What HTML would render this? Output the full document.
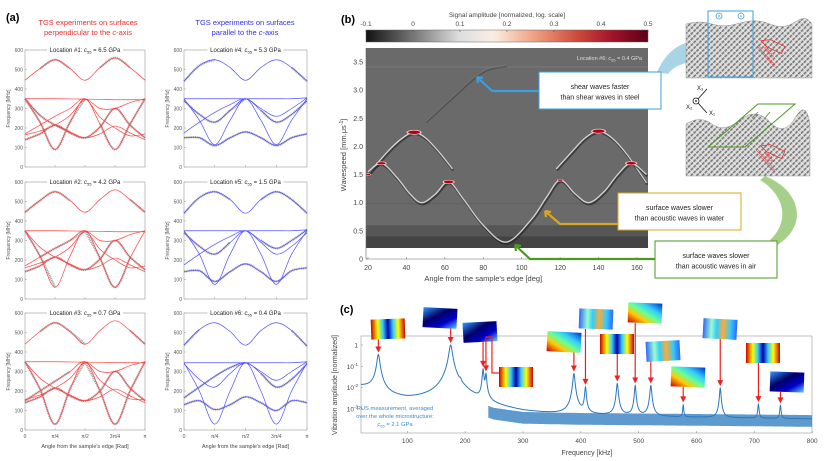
<!DOCTYPE html>
<html><head><meta charset="utf-8">
<style>
html,body{margin:0;padding:0;background:#fff;}
svg{display:block;font-family:"Liberation Sans",Arial,sans-serif;}
</style></head>
<body>
<svg id="fig" width="831" height="461" viewBox="0 0 831 461" xmlns="http://www.w3.org/2000/svg">
<defs>
  <linearGradient id="cbar" x1="0" x2="1" y1="0" y2="0">
    <stop offset="0" stop-color="#111"/>
    <stop offset="0.17" stop-color="#777"/>
    <stop offset="0.33" stop-color="#ddd"/>
    <stop offset="0.45" stop-color="#fbeee4"/>
    <stop offset="0.6" stop-color="#eea080"/>
    <stop offset="0.75" stop-color="#cc4a3a"/>
    <stop offset="0.88" stop-color="#a0102a"/>
    <stop offset="1" stop-color="#5a0015"/>
  </linearGradient>
  <pattern id="hatch" width="4" height="4" patternUnits="userSpaceOnUse" patternTransform="rotate(45)">
    <rect width="4" height="4" fill="#d8d8d8"/>
    <rect width="1.6" height="4" fill="#7a7a7a"/>
    <rect width="4" height="0.7" fill="#f4f4f4"/>
  </pattern>
  <linearGradient id="jet1" x1="0" x2="1"><stop offset="0" stop-color="#c00"/><stop offset="0.2" stop-color="#ff0"/><stop offset="0.35" stop-color="#3cf"/><stop offset="0.5" stop-color="#00a"/><stop offset="0.65" stop-color="#3cf"/><stop offset="0.8" stop-color="#ff0"/><stop offset="1" stop-color="#c00"/></linearGradient>
  <linearGradient id="jet2" x1="0" x2="1" y1="0" y2="1"><stop offset="0" stop-color="#39f"/><stop offset="0.4" stop-color="#006"/><stop offset="0.7" stop-color="#00c"/><stop offset="1" stop-color="#6cf"/></linearGradient>
  <linearGradient id="jet3" x1="0" x2="1" y1="1" y2="0"><stop offset="0" stop-color="#c00"/><stop offset="0.3" stop-color="#fc0"/><stop offset="0.5" stop-color="#6f9"/><stop offset="0.7" stop-color="#3cf"/><stop offset="1" stop-color="#03c"/></linearGradient>
  <linearGradient id="jet4" x1="0" x2="1"><stop offset="0" stop-color="#36f"/><stop offset="0.25" stop-color="#9fc"/><stop offset="0.4" stop-color="#3cf"/><stop offset="0.6" stop-color="#fa3"/><stop offset="0.8" stop-color="#3cf"/><stop offset="1" stop-color="#36f"/></linearGradient>
  <clipPath id="clipB"><rect x="366" y="48" width="282" height="200"/></clipPath>
  <clipPath id="clipC"><rect x="361" y="336" width="451" height="97"/></clipPath>
</defs>

<text x="6" y="21" font-size="11" font-weight="bold">(a)</text>
<text x="341" y="23" font-size="11" font-weight="bold">(b)</text>
<text x="340" y="313" font-size="11" font-weight="bold">(c)</text>

<text x="88" y="25" font-size="7.5" fill="#f03030" text-anchor="middle">TGS experiments on surfaces</text>
<text x="88" y="35" font-size="7.5" fill="#f03030" text-anchor="middle">perpendicular to the <tspan font-style="italic">c</tspan>-axis</text>
<text x="245" y="25" font-size="7.5" fill="#3030f0" text-anchor="middle">TGS experiments on surfaces</text>
<text x="245" y="35" font-size="7.5" fill="#3030f0" text-anchor="middle">parallel to the <tspan font-style="italic">c</tspan>-axis</text>

<g id="panelA"></g>
<g id="panelB"></g>
<g id="panelC"></g>
</svg>

<script>
// ---------- Panel (a) data ----------
const aAngles = [0, 0.125, 0.25, 0.375, 0.5, 0.625, 0.75, 0.875, 1]; // fraction of pi
const aTitles = ["Location #1: ", "Location #2: ", "Location #3: ", "Location #4: ", "Location #5: ", "Location #6: "];
const aC55 = ["6.5", "4.2", "0.7", "5.3", "1.5", "0.4"];
const aYTicks = [0, 100, 200, 300, 400, 500, 600];
const aXTickLabels = ["0", "π/4", "π/2", "3π/4", "π"];
const aCurvesLeft1 = [
  [445,505,550,505,445,510,560,510,445],
  [350,350,350,349,348,347,345,345,345],
  [350,230,90,230,350,220,90,220,350],
  [165,185,215,265,345,300,300,330,350],
  [140,170,215,175,150,205,300,215,150],
  [350,265,215,180,150,170,210,175,140],
  [170,215,260,300,350,255,200,160,170]
];
const aCurvesLeft2 = [
  [445,505,550,505,445,510,560,510,445],
  [350,350,350,349,348,347,345,345,345],
  [350,220,60,220,350,210,60,210,350],
  [160,185,215,265,345,300,300,330,350],
  [140,170,215,175,150,205,300,215,150],
  [350,265,215,180,150,170,210,175,140],
  [170,215,260,300,350,255,200,160,170]
];
const aCurvesLeft3 = [
  [440,505,550,505,440,510,560,510,440],
  [350,350,350,349,348,347,345,345,345],
  [350,210,30,210,350,200,30,200,350],
  [155,180,215,265,345,300,300,330,350],
  [140,170,215,175,150,200,300,215,150],
  [350,265,215,180,150,170,210,175,140],
  [150,200,250,300,350,255,200,160,155]
];
const aCurvesRight1 = [
  [440,520,550,510,445,510,550,510,440],
  [350,350,350,350,350,350,350,350,355],
  [350,240,115,240,350,240,115,240,350],
  [175,230,280,320,350,300,260,300,355],
  [150,150,110,150,180,150,110,150,170],
  [340,270,230,290,350,290,230,270,340]
];
const aCurvesRight2 = [
  [440,520,550,510,440,510,550,510,440],
  [350,350,350,350,350,350,350,350,355],
  [350,230,75,230,350,230,75,230,350],
  [175,230,280,320,350,300,260,300,355],
  [140,145,90,140,180,140,90,145,160],
  [340,270,230,290,350,290,230,270,340]
];
const aCurvesRight3 = [
  [435,515,550,505,435,510,550,510,430],
  [345,345,345,345,345,345,345,345,350],
  [345,200,30,200,345,200,30,200,345],
  [165,220,275,320,345,300,255,300,350],
  [130,150,105,130,170,140,100,150,140],
  [340,260,220,290,345,290,220,260,340]
];
const aGray1 = [[0,1,3],[0,5,7],[2,0,4],[2,5,8],[4,0,8],[5,0,3]];
const aGray2 = [[0,0,3],[0,7,8],[2,0,2],[2,4,7],[4,0,8],[6,1,4]];
const aGray3 = [[0,1,4],[0,7,8],[2,0,4],[2,4,8],[4,0,8],[6,0,3]];
const aGrayR1 = [[0,0,2],[0,7,8],[4,0,8],[5,0,4],[5,5,8]];
const aGrayR2 = [[0,0,3],[0,5,8],[4,0,8],[3,5,8],[5,0,3]];
const aGrayR3 = [[0,0,1],[0,7,8],[4,0,8],[3,0,4],[5,5,8]];

// ---------- Panel (b) data ----------
const bColorTicks = [-0.1, 0, 0.1, 0.2, 0.3, 0.4, 0.5];
const bYTicks = [0, 0.5, 1.0, 1.5, 2.0, 2.5, 3.0, 3.5];
const bXTicks = [20, 40, 60, 80, 100, 120, 140, 160];
const bWaveAngles = [20,27,35,42,48,55,62,70,80,92,105,113,120,128,135,143,150,157,165];
const bWaveSpeeds = [1.55,1.7,1.45,1.15,1.0,1.15,1.37,1.05,0.6,0.3,0.7,1.1,1.4,1.15,1.0,1.2,1.5,1.7,1.5];
const bArch1Angles = [20,30,38,44,50,57,64];
const bArch1Speeds = [1.5,1.9,2.15,2.25,2.15,1.9,1.6];
const bArch2Angles = [118,126,133,140,147,155,165];
const bArch2Speeds = [1.6,1.9,2.15,2.27,2.15,1.85,1.35];
const bFaintAngles = [50,58,66,74,82,92];
const bFaintSpeeds = [2.45,2.7,2.95,3.2,3.38,3.45];
const bPeakAngles = [44,27,62,140,157,120,20];
const bPeakSpeeds = [2.25,1.7,1.37,2.27,1.7,1.4,1.5];
const bPeakSizes = [1,0.7,0.8,1,0.8,0.4,0.4];

// ---------- Panel (c) data ----------
const cXTicks = [100,200,300,400,500,600,700,800];
const cYTickExp = [0,-1,-2,-3];
const cPeakFreqs = [50,175,192,231,236,388,408,463,494,521,577,641,707,745];
const cPeakAmps  = [0.35,1.0,0.006,0.07,0.04,0.045,0.01,0.015,0.012,0.012,0.0012,0.009,0.0013,0.0011];
const cPeakWidths= [2.2,2.5,1.5,1.2,1.2,1.6,1.2,1.4,1.2,1.4,0.8,1.2,1.0,1.0];
const cBaseFreqs = [20,40,60,100,150,200,225,250,300,400,500,600,700,800];
const cBaseAmps  = [0.012,0.01,0.004,0.0025,0.0025,0.003,0.0012,0.0007,0.00045,0.0004,0.00038,0.00036,0.00034,0.00032];
const cModeFreqs = [50,175,231,236,388,408,463,494,521,577,641,707,745];

const NS = "http://www.w3.org/2000/svg";
function mk(tag, attrs, parent){const e=document.createElementNS(NS,tag);for(const k in attrs)e.setAttribute(k,attrs[k]);parent.appendChild(e);return e;}
function smooth(pts){
  let d="M"+pts[0][0].toFixed(2)+","+pts[0][1].toFixed(2);
  for(let i=0;i<pts.length-1;i++){
    const p0=pts[Math.max(0,i-1)],p1=pts[i],p2=pts[i+1],p3=pts[Math.min(pts.length-1,i+2)];
    const c1=[p1[0]+(p2[0]-p0[0])/6,p1[1]+(p2[1]-p0[1])/6];
    const c2=[p2[0]-(p3[0]-p1[0])/6,p2[1]-(p3[1]-p1[1])/6];
    d+="C"+c1[0].toFixed(2)+","+c1[1].toFixed(2)+" "+c2[0].toFixed(2)+","+c2[1].toFixed(2)+" "+p2[0].toFixed(2)+","+p2[1].toFixed(2);
  }
  return d;
}

// ---------- Draw panel (a) ----------
const gA=document.getElementById("panelA");
const subs=[
 {x0:25,x1:145,top:50,curves:aCurvesLeft1,gray:aGray1,col:"#ff4040",t:0},
 {x0:25,x1:145,top:182,curves:aCurvesLeft2,gray:aGray2,col:"#ff4040",t:1},
 {x0:25,x1:145,top:313,curves:aCurvesLeft3,gray:aGray3,col:"#ff4040",t:2},
 {x0:184,x1:307,top:50,curves:aCurvesRight1,gray:aGrayR1,col:"#5050ff",t:3},
 {x0:184,x1:307,top:182,curves:aCurvesRight2,gray:aGrayR2,col:"#5050ff",t:4},
 {x0:184,x1:307,top:313,curves:aCurvesRight3,gray:aGrayR3,col:"#5050ff",t:5}
];
subs.forEach((s,si)=>{
  const h=117;
  const xs=f=>s.x0+f*(s.x1-s.x0);
  const ys=v=>s.top+h-v/600*h;
  const g=mk("g",{},gA);
  
  
  mk("rect",{x:s.x0,y:s.top,width:s.x1-s.x0,height:h,fill:"#fff",stroke:"#999","stroke-width":0.6},g);
  aYTicks.forEach(v=>{
    mk("line",{x1:s.x0,x2:s.x0+2,y1:ys(v),y2:ys(v),stroke:"#999","stroke-width":0.5},g);
    const t=mk("text",{x:s.x0-2,y:ys(v)+1.8,"font-size":5,fill:"#555","text-anchor":"end"},g);
    t.textContent=v;
    
    
  });
  const yl=mk("text",{x:0,y:0,"font-size":5,fill:"#555","text-anchor":"middle",transform:`translate(${s.x0-15},${s.top+h/2}) rotate(-90)`},g);
  yl.textContent="Frequency [MHz]";
  
  
  if(s.t===2||s.t===5){
    aXTickLabels.forEach((lab,i)=>{
      const x=xs(i/4);
      mk("line",{x1:x,x2:x,y1:s.top+h,y2:s.top+h-2,stroke:"#999","stroke-width":0.5},g);
      const t=mk("text",{x:x,y:s.top+h+8,"font-size":5,fill:"#555","text-anchor":"middle"},g);
      t.textContent=lab;
      
      
    });
    const xl=mk("text",{x:(s.x0+s.x1)/2,y:s.top+h+18,"font-size":5.5,fill:"#444","text-anchor":"middle"},g);
    xl.textContent="Angle from the sample's edge [Rad]";
    
    
  } else {
    [1,2,3].forEach(i=>mk("line",{x1:xs(i/4),x2:xs(i/4),y1:s.top+h,y2:s.top+h-2,stroke:"#999","stroke-width":0.5},g));
  }
  s.gray.forEach(gr=>{
    const c=s.curves[gr[0]];
    const pts=[];for(let i=gr[1];i<=gr[2];i++)pts.push([xs(aAngles[i]),ys(c[i])]);
    const p=mk("path",{d:smooth(pts),fill:"none",stroke:"#888","stroke-width":2.2,"stroke-dasharray":"1.2 0.6",opacity:0.75},g);
    
    
  });
  s.curves.forEach((c,ci)=>{
    const pts=c.map((v,i)=>[xs(aAngles[i]),ys(v)]);
    const p=mk("path",{d:smooth(pts),fill:"none",stroke:s.col,"stroke-width":0.7},g);
    
    
  });
  const tx=(s.x0+s.x1)/2;
  mk("rect",{x:tx-38,y:s.top-4,width:76,height:8,fill:"#fff"},g);
  const tt=mk("text",{x:tx,y:s.top+2,"font-size":6,fill:"#222","text-anchor":"middle"},g);
  tt.innerHTML=aTitles[s.t]+'<tspan font-style="italic">c</tspan><tspan font-size="4" dy="1.5">55</tspan><tspan dy="-1.5"> = '+aC55[s.t]+' GPa</tspan>';
  
  
});

// ---------- Draw panel (b) ----------
const gB=document.getElementById("panelB");
const xb=d=>368+(d-20)*1.921;
const yb=v=>259-v*56.3;
const cbx=v=>366+(v+0.1)/0.6*282;
let e;
e=mk("text",{x:507,y:17,"font-size":6.5,fill:"#444","text-anchor":"middle"},gB);e.textContent="Signal amplitude [normalized, log. scale]";


e=mk("rect",{x:366,y:30,width:282,height:12,fill:"url(#cbar)",stroke:"#666","stroke-width":0.5},gB);


bColorTicks.forEach(v=>{
  mk("line",{x1:cbx(v),x2:cbx(v),y1:30,y2:32,stroke:"#444","stroke-width":0.5},gB);
  const t=mk("text",{x:cbx(v),y:26,"font-size":6.5,fill:"#444","text-anchor":"middle"},gB);
  t.textContent=v;
  
  
});
e=mk("rect",{x:366,y:48,width:282,height:200,fill:"#6a6a6a"},gB);


const gBc=mk("g",{"clip-path":"url(#clipB)"},gB);
mk("rect",{x:366,y:yb(0.6),width:282,height:248-yb(0.6),fill:"#565656"},gBc);
mk("rect",{x:366,y:yb(0.4),width:282,height:248-yb(0.4),fill:"#444"},gBc);
mk("rect",{x:366,y:yb(3.43),width:282,height:2,fill:"#727272"},gBc);
mk("rect",{x:366,y:yb(1.0),width:282,height:1.5,fill:"#626262"},gBc);
function bCurve(angs,sps,w,col,op,name){
  const pts=angs.map((a,i)=>[xb(a),yb(sps[i])]);
  mk("path",{d:smooth(pts),fill:"none",stroke:"#222","stroke-width":w+0.8,opacity:op*0.7,transform:"translate(0.8,1.6)"},gBc);
  const p=mk("path",{d:smooth(pts),fill:"none",stroke:col,"stroke-width":w,opacity:op},gBc);
  
  
}
bCurve(bFaintAngles,bFaintSpeeds,0.5,"#888",0.5,"faint-shear-branch");
bCurve(bArch1Angles,bArch1Speeds,1.3,"#eaeaea",0.85,"arch-branch-left");
bCurve(bArch2Angles,bArch2Speeds,1.3,"#eaeaea",0.85,"arch-branch-right");
bCurve(bWaveAngles,bWaveSpeeds,1.4,"#dcdcdc",0.9,"surface-wave-branch");
bPeakAngles.forEach((a,i)=>{
  const s=bPeakSizes[i];
  mk("ellipse",{cx:xb(a),cy:yb(bPeakSpeeds[i]),rx:7*s+0.5,ry:2*s+0.4,fill:"#f0c8c0"},gBc);
  const el=mk("ellipse",{cx:xb(a),cy:yb(bPeakSpeeds[i]),rx:6*s,ry:1.7*s,fill:"#b0001c"},gBc);
  
  
});
e=mk("text",{x:642,y:60,"font-size":5.5,fill:"#ddd","text-anchor":"end"},gB);
e.innerHTML='Location #6: <tspan font-style="italic">c</tspan><tspan font-size="4" dy="1.5">55</tspan><tspan dy="-1.5"> = 0.4 GPa</tspan>';


mk("line",{x1:366,x2:366,y1:48,y2:259,stroke:"#666","stroke-width":0.6},gB);
mk("line",{x1:366,x2:648,y1:259,y2:259,stroke:"#666","stroke-width":0.6},gB);
bYTicks.forEach(v=>{
  mk("line",{x1:366,x2:368,y1:yb(v),y2:yb(v),stroke:"#666","stroke-width":0.5},gB);
  const t=mk("text",{x:363,y:yb(v)+2.5,"font-size":7,fill:"#444","text-anchor":"end"},gB);
  t.textContent=v.toFixed(v===0?0:1);
  
  
});
bXTicks.forEach(v=>{
  mk("line",{x1:xb(v),x2:xb(v),y1:259,y2:257,stroke:"#666","stroke-width":0.5},gB);
  const t=mk("text",{x:xb(v),y:270,"font-size":7,fill:"#444","text-anchor":"middle"},gB);
  t.textContent=v;
  
  
});
e=mk("text",{x:xb(80),y:281,"font-size":7.5,fill:"#444","text-anchor":"middle"},gB);e.textContent="Angle from the sample's edge [deg]";


e=mk("text",{x:0,y:0,"font-size":7.5,fill:"#444","text-anchor":"middle",transform:"translate(346,155) rotate(-90)"},gB);
e.innerHTML='Wavespeed [mm.μs<tspan font-size="5" dy="-3">-1</tspan><tspan dy="3">]</tspan>';



e=mk("path",{d:"M657,72 C665,55 675,45 690,42 L690,62 C680,64 672,68 668,74 Z",fill:"#a8d4e6"},gB);


e=mk("path",{d:"M765,176 C800,190 810,225 776,246 L770,240 C790,222 785,195 760,180 Z",fill:"#a6d08a"},gB);


e=mk("path",{d:"M686,24 Q700,20 712,24 T740,23 T770,24 T795,22 T812,24 L812,78 L686,78 Z",fill:"url(#hatch)",stroke:"#999","stroke-width":0.5},gB);


e=mk("rect",{x:708,y:11,width:45,height:66,fill:"none",stroke:"#3aa0dc","stroke-width":1},gB);


mk("circle",{cx:719,cy:16,r:3,fill:"none",stroke:"#3aa0dc","stroke-width":0.8},gB);
mk("text",{x:719,y:18.3,"font-size":6,fill:"#3aa0dc","text-anchor":"middle"},gB).textContent="×";
mk("circle",{cx:741,cy:16,r:3,fill:"none",stroke:"#3aa0dc","stroke-width":0.8},gB);
mk("circle",{cx:741,cy:16,r:0.8,fill:"#3aa0dc"},gB);
e=mk("path",{d:"M686,124 Q700,115 712,124 T740,120 T770,122 T795,118 T810,124 L810,176 L686,176 Z",fill:"url(#hatch)",stroke:"#999","stroke-width":0.5},gB);


e=mk("path",{d:"M708,147 L758,104 L795,104 L745,147 Z",fill:"none",stroke:"#4a9a20","stroke-width":1},gB);


mk("line",{x1:752,y1:118,x2:758,y2:112,stroke:"#4a9a20","stroke-width":0.8},gB);
mk("line",{x1:770,y1:112,x2:765,y2:118,stroke:"#4a9a20","stroke-width":0.8},gB);
[[770,45],[770,150]].forEach((p,i)=>{
  const r=mk("path",{d:`M${p[0]-10},${p[1]} l8,-5 l16,0 l0,8 l-16,0 Z`,fill:"none",stroke:"#f03030","stroke-width":0.8,transform:`rotate(25 ${p[0]} ${p[1]})`},gB);
  
  
  const t=mk("text",{x:p[0]-2,y:p[1]+8,"font-size":5,fill:"#f03030","text-anchor":"middle",transform:`rotate(50 ${p[0]-2} ${p[1]+8})`},gB);
  t.textContent="lattice";
  
  
  const t2=mk("text",{x:p[0]-5,y:p[1]+12,"font-size":5,fill:"#f03030","text-anchor":"middle",transform:`rotate(50 ${p[0]-5} ${p[1]+12})`},gB);
  t2.textContent="modulations";
});
mk("circle",{cx:696,cy:101,r:3,fill:"#fff",stroke:"#111","stroke-width":0.8},gB);
mk("circle",{cx:696,cy:101,r:0.9,fill:"#111"},gB);
mk("line",{x1:698,y1:99,x2:707,y2:89,stroke:"#111","stroke-width":0.8},gB);
mk("line",{x1:698,y1:103,x2:707,y2:113,stroke:"#111","stroke-width":0.8},gB);
mk("text",{x:697,y:90,"font-size":6,fill:"#111"},gB).textContent="X₃";
mk("text",{x:686,y:109,"font-size":6,fill:"#111"},gB).textContent="X₂";
mk("text",{x:709,y:115,"font-size":6,fill:"#111"},gB).textContent="X₁";
function annBox(x,y,w,h,col,l1,l2,arrow,name){
  const a=mk("path",{d:arrow,fill:"none",stroke:col,"stroke-width":2.2},gB);
  
  
  const r=mk("rect",{x:x,y:y,width:w,height:h,fill:"#fff",stroke:col,"stroke-width":1},gB);
  
  
  const t1=mk("text",{x:x+w/2,y:y+h/2-1.5,"font-size":7,fill:"#222","text-anchor":"middle"},gB);t1.textContent=l1;
  
  
  const t2=mk("text",{x:x+w/2,y:y+h/2+9,"font-size":7,fill:"#222","text-anchor":"middle"},gB);t2.textContent=l2;
}
annBox(539,72,122,37,"#3aa0dc","shear waves faster","than shear waves in steel","M539,91 L492,91 L477,77 M477,77 l1,6 M477,77 l6,1","shear-annotation");
annBox(618,193,123,37,"#d6a820","surface waves slower","than acoustic waves in water","M618,224 L560,224 L545,211 M545,211 l1,6 M545,211 l6,1","water-annotation");
annBox(655,241,122,37,"#4a9a20","surface waves slower","than acoustic waves in air","M655,259 L530,259 L515,245 M515,245 l1,6 M515,245 l6,1","air-annotation");

// ---------- Draw panel (c) ----------
const gC=document.getElementById("panelC");
const xc=f=>361+(f-20)*0.5785;
const yc=a=>345-21.3*Math.log10(a);
function baseAt(f){
  for(let i=0;i<cBaseFreqs.length-1;i++){
    if(f<=cBaseFreqs[i+1]){const t=(f-cBaseFreqs[i])/(cBaseFreqs[i+1]-cBaseFreqs[i]);return Math.exp(Math.log(cBaseAmps[i])*(1-t)+Math.log(cBaseAmps[i+1])*t);}
  }
  return cBaseAmps[cBaseAmps.length-1];
}
function specAt(f){
  let s=baseAt(f);
  cPeakFreqs.forEach((f0,i)=>{const g=cPeakWidths[i];s+=cPeakAmps[i]*g*g/((f-f0)*(f-f0)+g*g);});
  return s;
}
e=mk("rect",{x:361,y:336,width:451,height:97,fill:"#fff",stroke:"#999","stroke-width":0.6},gC);


const gCc=mk("g",{"clip-path":"url(#clipC)"},gC);
let up="",lo=[];
for(let f=240;f<=800;f+=2){up+=(up?"L":"M")+xc(f).toFixed(1)+","+yc(baseAt(f)*1.6).toFixed(1);lo.push(xc(f).toFixed(1)+","+yc(baseAt(f)*0.45).toFixed(1));}
e=mk("path",{d:up+"L"+lo.reverse().join("L")+"Z",fill:"#2a78bd",opacity:0.75},gCc);


let d="";
for(let f=20;f<=800;f+=0.25){d+=(d?"L":"M")+xc(f).toFixed(2)+","+yc(specAt(f)).toFixed(2);}
e=mk("path",{d:d,fill:"none",stroke:"#2a78bd","stroke-width":1},gCc);


cXTicks.forEach(v=>{
  mk("line",{x1:xc(v),x2:xc(v),y1:433,y2:431,stroke:"#888","stroke-width":0.5},gC);
  const t=mk("text",{x:xc(v),y:443,"font-size":6.5,fill:"#444","text-anchor":"middle"},gC);
  t.textContent=v;
  
  
});
cYTickExp.forEach(p=>{
  const y=yc(Math.pow(10,p));
  mk("line",{x1:361,x2:363,y1:y,y2:y,stroke:"#888","stroke-width":0.5},gC);
  const t=mk("text",{x:358,y:y+2.5,"font-size":6.5,fill:"#444","text-anchor":"end"},gC);
  t.innerHTML=p===0?"1":'10<tspan font-size="4.5" dy="-3">'+p+'</tspan>';
  
  
});
e=mk("text",{x:587,y:455,"font-size":7,fill:"#444","text-anchor":"middle"},gC);e.textContent="Frequency [kHz]";


e=mk("text",{x:0,y:0,"font-size":7,fill:"#444","text-anchor":"middle",transform:"translate(337,385) rotate(-90)"},gC);e.textContent="Vibration amplitude [normalized]";


[["RUS measurement, averaged",0],["over the whole microstructure:",8]].forEach(r=>{
  const t=mk("text",{x:395,y:410+r[1],"font-size":5.8,fill:"#3a8ad0","text-anchor":"middle"},gC);t.textContent=r[0];
  
  
});
e=mk("text",{x:395,y:426,"font-size":5.8,fill:"#3a8ad0","text-anchor":"middle"},gC);
e.innerHTML='<tspan font-style="italic">c</tspan><tspan font-size="4" dy="1.5">55</tspan><tspan dy="-1.5"> = 2.1 GPa</tspan>';
const modeBoxes=[[371,319,"jet1",-2],[423,308,"jet2",3],[463,322,"jet2",-3],[499,367,"jet1",0],[547,332,"jet3",3],[579,309,"jet4",2],[600,334,"jet1",0],[628,303,"jet3",2],[646,341,"jet4",-3],[671,367,"jet3",2],[703,319,"jet4",3],[746,343,"jet1",0],[770,372,"jet2",2]];
modeBoxes.forEach((b,i)=>{
  const f=cModeFreqs[i];
  const px=xc(f), py=yc(specAt(f))-2;
  let arr;
  if(i===3){arr=`M${b[0]},${b[1]+6} L${px+6},${b[1]+6} L${px+6},${337} L${px},${337} L${px},${py-4}`;}
  else {const sx=Math.max(b[0]+3,Math.min(b[0]+30,px));arr=`M${sx},${b[1]+20} L${sx},${b[1]+22} L${px},${b[1]+22} L${px},${py-4}`;}
  const a=mk("path",{d:arr,fill:"none",stroke:"#f02020","stroke-width":1.2},gC);
  
  
  mk("path",{d:`M${px-3},${py-6} L${px+3},${py-6} L${px},${py} Z`,fill:"#f02020"},gC);
  const r=mk("rect",{x:b[0],y:b[1],width:34,height:20,fill:`url(#${b[2]})`,transform:`rotate(${b[3]} ${b[0]+17} ${b[1]+10})`},gC);
  
  
});
</script>
</body></html>
